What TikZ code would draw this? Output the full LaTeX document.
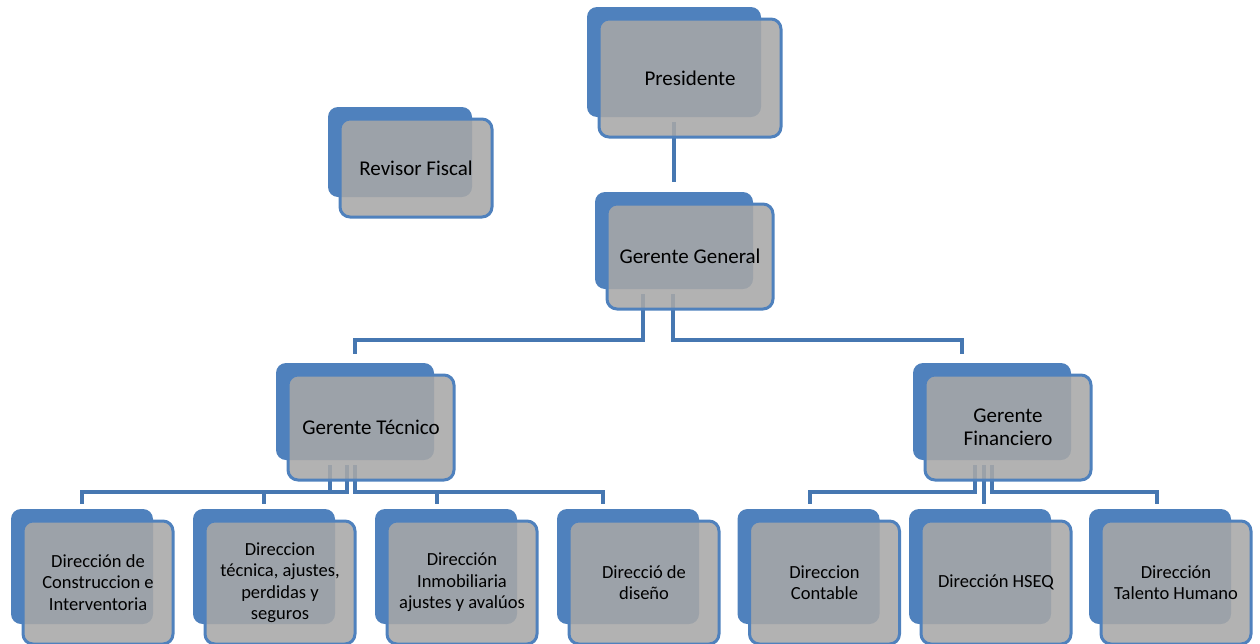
\documentclass[tikz,border=0pt]{standalone}
\usepackage{fontspec}
\setmainfont{Carlito}
\usetikzlibrary{calc}
\pgfdeclarelayer{back}
\pgfdeclarelayer{lines}
\pgfsetlayers{back,lines,main}
\definecolor{accent}{HTML}{4F81BD}
\definecolor{linkblue}{HTML}{4677B1}
\definecolor{panel}{HTML}{A7A7A7}
\tikzset{
  backbox/.style={fill=accent, rounded corners=10pt, inner sep=0pt},
  frontbox/.style={draw=accent, line width=3pt, fill=panel, fill opacity=0.88,
    text opacity=1, rounded corners=10pt, inner sep=0pt, align=center},
  bigtext/.style={font=\fontsize{21}{23.5}\selectfont},
  smalltext/.style={font=\fontsize{18.5}{21.5}\selectfont},
  link/.style={draw=linkblue, line width=4.5pt},
}
% #1 text style, #2 name, #3/#4 centre of the back card, #5 width, #6 height, #7 label
\newcommand\orgunit[7][bigtext]{%
  \begin{pgfonlayer}{back}
    \node[backbox, minimum width=#5pt, minimum height=#6pt] (#2B) at (#3,#4) {};
  \end{pgfonlayer}
  \node[frontbox, #1, minimum width=#5pt+8pt, minimum height=#6pt+8pt]
    (#2) at ($(#2B.center)+(16,16)$) {#7};
}
\begin{document}
\begin{tikzpicture}[x=1pt, y=-1pt]
\useasboundingbox (0,0) rectangle (1260,643);

% upper levels
\orgunit{pres}{674}{62}{174}{110}{Presidente}
\orgunit{rev}{400}{152}{144}{90}{Revisor Fiscal}
\orgunit{gg}{674}{240.5}{158}{97}{Gerente General}
\orgunit{gt}{355}{411.5}{158}{97}{Gerente Técnico}
\orgunit{gf}{992}{411.5}{158}{97}{Gerente\\Financiero}

% directions
\orgunit[smalltext]{d1}{82}{566.5}{142}{115}{Dirección de\\Construccion e\\Interventoria}
\orgunit[smalltext]{d2}{264}{566.5}{142}{115}{Direccion\\técnica, ajustes,\\perdidas y\\seguros}
\orgunit[smalltext]{d3}{446}{566.5}{142}{115}{Dirección\\Inmobiliaria\\ajustes y avalúos}
\orgunit[smalltext]{d4}{628}{566.5}{142}{115}{Direcció de\\diseño}
\orgunit[smalltext]{d5}{808.5}{566.5}{142}{115}{Direccion\\Contable}
\orgunit[smalltext]{d6}{980}{566.5}{142}{115}{Dirección HSEQ}
\orgunit[smalltext]{d7}{1160}{566.5}{142}{115}{Dirección\\Talento Humano}

% reporting lines, drawn behind the translucent cards
\begin{pgfonlayer}{lines}
  \draw[link] ($(presB.south)+(0,5)$) -- ($(ggB.north)+(0,-10)$);

  \draw[link] ($(ggB.south)+(-31,5)$) |- ($(gtB.north)+(0,-23)$) -- ($(gtB.north)+(0,-9)$);
  \draw[link] ($(ggB.south)+(-1,5)$) |- ($(gfB.north)+(-30,-23)$) -- ($(gfB.north)+(-30,-9)$);

  \draw[link] ($(gtB.south)+(-25,5)$) |- ($(d1B.north)+(0,-17)$) -- ($(d1B.north)+(0,-5)$);
  \draw[link] ($(gtB.south)+(-8,5)$) |- ($(d2B.north)+(0,-17)$) -- ($(d2B.north)+(0,-5)$);
  \draw[link] ($(gtB.south)+(0,5)$) |- ($(d3B.north)+(-9,-17)$) -- ($(d3B.north)+(-9,-5)$);
  \draw[link] ($(gtB.south)+(0,5)$) |- ($(d4B.north)+(-25,-17)$) -- ($(d4B.north)+(-25,-5)$);

  \draw[link] ($(gfB.south)+(-17,5)$) |- ($(d5B.north)+(1.5,-17)$) -- ($(d5B.north)+(1.5,-5)$);
  \draw[link] ($(gfB.south)+(-8,5)$) -- ($(d6B.north)+(4,-5)$);
  \draw[link] ($(gfB.south)+(0,5)$) |- ($(d7B.north)+(-3,-17)$) -- ($(d7B.north)+(-3,-5)$);
\end{pgfonlayer}
\end{tikzpicture}
\end{document}
